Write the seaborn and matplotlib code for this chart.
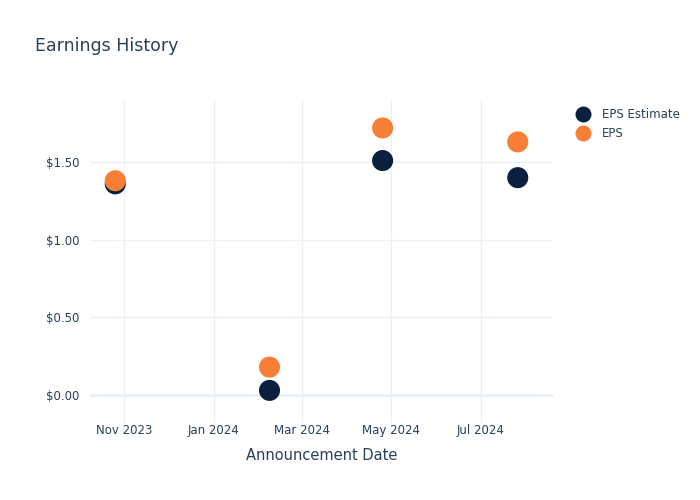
import matplotlib
matplotlib.use("Agg")
import matplotlib.pyplot as plt
import matplotlib.dates as mdates
from matplotlib.ticker import FuncFormatter
from matplotlib.lines import Line2D
import seaborn as sns
import pandas as pd

dates = ["2023-10-26", "2024-02-08", "2024-04-25", "2024-07-26"]
eps_estimate = [1.36, 0.03, 1.51, 1.40]
eps_actual = [1.38, 0.18, 1.72, 1.63]
series_names = ["EPS Estimate", "EPS"]
series_colors = ["#0b1f3f", "#f77f35"]

df = pd.DataFrame({
    "date": pd.to_datetime(dates * 2),
    "value": eps_estimate + eps_actual,
    "series": [series_names[0]] * len(dates) + [series_names[1]] * len(dates),
})

sns.set_theme(style="white")
plt.rcParams['font.family'] = ['DejaVu Sans']
text_color = "#2a3f5f"
grid_color = "#ebf0f8"

fig = plt.figure(figsize=(7, 5), dpi=100)
ax = fig.add_axes([0.129, 0.154, 0.661, 0.646])

sns.scatterplot(data=df, x="date", y="value", hue="series",
                palette=dict(zip(series_names, series_colors)),
                s=230, edgecolor="none", ax=ax, legend=False, zorder=3)

ax.set_xlim(pd.Timestamp("2023-10-09"), pd.Timestamp("2024-08-19"))
ax.set_ylim(-0.18, 1.90)
ax.set_yticks([0, 0.5, 1.0, 1.5])
ax.yaxis.set_major_formatter(FuncFormatter(lambda v, p: f"${v:.2f}"))
ax.xaxis.set_major_locator(mdates.MonthLocator(bymonth=[1, 3, 5, 7, 11]))
ax.xaxis.set_major_formatter(mdates.DateFormatter("%b %Y"))

ax.grid(True, color=grid_color, linewidth=1)
ax.axhline(0, color=grid_color, linewidth=2, zorder=1)
for s in ax.spines.values():
    s.set_visible(False)
ax.tick_params(axis="y", length=0, labelsize=8.5, colors=text_color, pad=8)
ax.tick_params(axis="x", length=0, labelsize=8.5, colors=text_color, pad=1)
ax.set_xlabel("Announcement Date", fontsize=10.5, color=text_color, labelpad=8)
ax.set_ylabel("")

fig.text(0.05, 0.898, "Earnings History", fontsize=12.5, color=text_color)

handles = [Line2D([0], [0], marker="o", linestyle="none", markersize=11.5,
                  markerfacecolor=c, markeredgecolor="none") for c in series_colors]
leg = fig.legend(handles, series_names, loc="upper left", bbox_to_anchor=(0.814, 0.796),
                 frameon=False, fontsize=8.5, handletextpad=1.05, labelspacing=0.55,
                 borderpad=0, handlelength=1.2)
for t in leg.get_texts():
    t.set_color(text_color)

fig.savefig("out.png", dpi=100)
